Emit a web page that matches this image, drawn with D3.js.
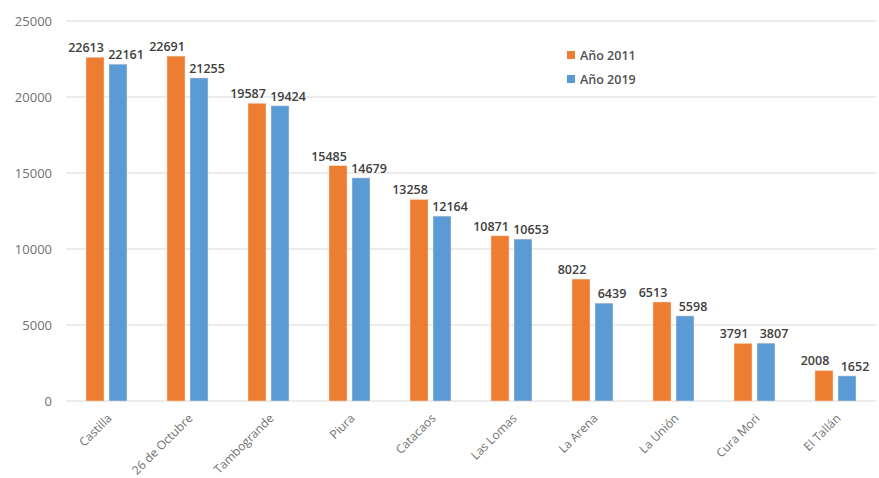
<!DOCTYPE html>
<html>
<head>
<meta charset="utf-8">
<script src="https://cdn.jsdelivr.net/npm/d3@7"></script>
<style>
  html, body { margin: 0; padding: 0; background: #fff; }
  svg { display: block; }
</style>
</head>
<body>
<svg id="chart" width="879" height="478"></svg>
<script>
// Distritos y población por año
const districts = ["Castilla", "26 de Octubre", "Tambogrande", "Piura", "Catacaos",
                   "Las Lomas", "La Arena", "La Unión", "Cura Mori", "El Tallán"];
const pop2011 = [22613, 22691, 19587, 15485, 13258, 10871, 8022, 6513, 3791, 2008];
const pop2019 = [22161, 21255, 19424, 14679, 12164, 10653, 6439, 5598, 3807, 1652];
const seriesNames = ["Año 2011", "Año 2019"];
const seriesColors = ["#ED7D31", "#5B9BD5"];
const yTicks = [0, 5000, 10000, 15000, 20000, 25000];

const svg = d3.select("#chart");
const margin = { left: 66, right: 3, top: 21, bottom: 77 };
const W = 879, H = 478;

const x = d3.scaleBand().domain(districts)
  .range([margin.left, W - margin.right]).paddingInner(0).paddingOuter(0);
const y = d3.scaleLinear().domain([0, 25000]).range([H - margin.bottom, margin.top]);

const barW = 18, gap = 5;
const offsets = [-(barW / 2 + gap / 2), (barW / 2 + gap / 2)];
const labelShift = [-9, 8];

// Gridlines
svg.append("g")
  .selectAll("line")
  .data(yTicks)
  .join("line")
  .attr("x1", margin.left).attr("x2", W - margin.right)
  .attr("y1", d => y(d)).attr("y2", d => y(d))
  .attr("stroke", "#d9d9d9").attr("stroke-width", 1);

// Y axis labels
const yAxis = d3.axisLeft(y).tickValues(yTicks).tickSize(0).tickPadding(0)
  .tickFormat(d3.format("d"));
const yg = svg.append("g").attr("transform", `translate(${margin.left - 14},0)`).call(yAxis);
yg.select(".domain").remove();
yg.selectAll("text")
  .attr("font-family", "Open Sans, sans-serif")
  .attr("font-size", 13)
  .attr("fill", "#707070");

// Bars and value labels
const series = [pop2011, pop2019];
series.forEach((vals, s) => {
  const g = svg.append("g");
  g.selectAll("rect")
    .data(vals)
    .join("rect")
    .attr("x", (d, i) => x(districts[i]) + x.bandwidth() / 2 + offsets[s] - barW / 2)
    .attr("y", d => y(d))
    .attr("width", barW)
    .attr("height", d => y(0) - y(d))
    .attr("fill", seriesColors[s])
    .attr("stroke", "#fbe3d2")
    .attr("stroke-opacity", 0.6)
    .attr("stroke-width", 0.8);

  g.selectAll("text")
    .data(vals)
    .join("text")
    .attr("x", (d, i) => x(districts[i]) + x.bandwidth() / 2 + offsets[s] + labelShift[s])
    .attr("y", d => y(d) - 5)
    .attr("text-anchor", "middle")
    .attr("font-family", "Open Sans, sans-serif")
    .attr("font-weight", 600)
    .attr("font-size", 12.5)
    .attr("fill", "#404040")
    .text(d => d);
});

// X axis category labels (rotated)
const xAxis = d3.axisBottom(x).tickSize(0).tickPadding(0);
const xg = svg.append("g").attr("transform", `translate(0,${y(0)})`).call(xAxis);
xg.select(".domain").remove();
xg.selectAll("text")
  .attr("font-family", "Open Sans, sans-serif")
  .attr("font-size", 12)
  .attr("fill", "#707070")
  .attr("text-anchor", "end")
  .attr("dy", 0)
  .attr("transform", "translate(6,18) rotate(-45)");

// Legend
const legend = svg.append("g").attr("transform", "translate(567,55)");
seriesNames.forEach((name, i) => {
  const row = legend.append("g").attr("transform", `translate(0,${i * 24})`);
  row.append("rect").attr("x", 0).attr("y", -4).attr("width", 8).attr("height", 8)
    .attr("fill", seriesColors[i]);
  row.append("text").attr("x", 13).attr("y", 4.5)
    .attr("font-family", "Open Sans, sans-serif")
    .attr("font-weight", 600)
    .attr("font-size", 12.5)
    .attr("fill", "#505050")
    .text(name);
});
</script>
</body>
</html>
